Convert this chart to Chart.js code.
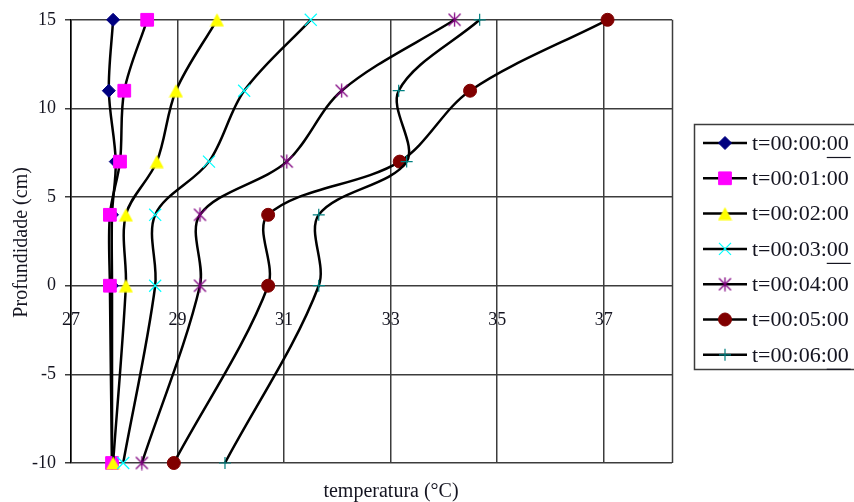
<!DOCTYPE html>
<html>
<head>
<meta charset="utf-8">
<script src="https://cdn.jsdelivr.net/npm/chart.js@4.4.1/dist/chart.umd.min.js"></script>
<style>
  html, body { margin: 0; padding: 0; background: #ffffff; }
  #wrap { width: 854px; height: 502px; position: relative; }
</style>
</head>
<body>
<div id="wrap"><canvas id="c" width="854" height="502"></canvas></div>
<script>
// Depth of each measurement (cm)
const depths = [15, 11, 7, 4, 0, -10];

// Temperature profiles (°C) per elapsed time
const seriesNames = ['t=00:00:00', 't=00:01:00', 't=00:02:00', 't=00:03:00', 't=00:04:00', 't=00:05:00', 't=00:06:00'];
const temp0 = [27.79, 27.71, 27.84, 27.77, 27.77, 27.77];
const temp1 = [28.43, 28.00, 27.92, 27.73, 27.73, 27.77];
const temp2 = [29.74, 28.97, 28.61, 28.03, 28.03, 27.79];
const temp3 = [31.50, 30.25, 29.59, 28.58, 28.58, 27.98];
const temp4 = [34.20, 32.08, 31.05, 29.42, 29.42, 28.33];
const temp5 = [37.07, 34.49, 33.17, 30.70, 30.70, 28.93];
const temp6 = [34.67, 33.15, 33.30, 31.65, 31.65, 29.89];
const temperatures = [temp0, temp1, temp2, temp3, temp4, temp5, temp6];

// Axis ranges and tick labels
const xTicks = [27, 29, 31, 33, 35, 37];
const yTicks = [-10, -5, 0, 5, 10, 15];
const xMin = 27, xMax = 38.28;
const yMin = -10, yMax = 15;

const axisTitleX = 'temperatura (°C)';
const axisTitleY = 'Profundidade (cm)';

const SERIF = "'Liberation Serif', 'Times New Roman', serif";

// Marker images for the shapes the library does not offer
function makeTriangle(color) {
  const w = 15, h = 14;
  const cv = document.createElement('canvas');
  cv.width = w; cv.height = h;
  const g = cv.getContext('2d');
  g.fillStyle = color;
  g.beginPath();
  g.moveTo(w / 2, 0.5);
  g.lineTo(w - 0.5, h - 0.5);
  g.lineTo(0.5, h - 0.5);
  g.closePath();
  g.fill();
  return cv;
}
function makeAsterisk(color) {
  const s = 15;
  const cv = document.createElement('canvas');
  cv.width = s; cv.height = s;
  const g = cv.getContext('2d');
  g.strokeStyle = color;
  g.lineWidth = 1.3;
  g.beginPath();
  g.moveTo(1.5, 1.5); g.lineTo(s - 1.5, s - 1.5);
  g.moveTo(s - 1.5, 1.5); g.lineTo(1.5, s - 1.5);
  g.moveTo(s / 2, 0.5); g.lineTo(s / 2, s - 0.5);
  g.stroke();
  return cv;
}

const markerColors = ['#000080', '#ff00ff', '#ffff00', '#00ffff', '#800080', '#800000', '#008080'];
const markerStyles = ['rectRot', 'rect', makeTriangle('#ffff00'), 'crossRot', makeAsterisk('#800080'), 'circle', 'cross'];
const markerRadius = [6.5, 9, 7, 8.5, 7, 6.5, 6];
const markerBorder = [1, 1, 1, 1.2, 1.2, 1, 1.2];

const datasets = temperatures.map((vals, i) => ({
  label: seriesNames[i],
  data: vals.map((t, k) => ({ x: t, y: depths[k] })),
  borderColor: '#000000',
  borderWidth: 2.5,
  tension: 0.33,
  fill: false,
  clip: false,
  pointStyle: markerStyles[i],
  pointRadius: markerRadius[i],
  pointHoverRadius: markerRadius[i],
  pointBackgroundColor: markerColors[i],
  pointBorderColor: markerColors[i],
  pointBorderWidth: markerBorder[i],
  order: temperatures.length - i
}));

// Closes the plot frame on the right-hand side
const frameRight = {
  id: 'frameRight',
  beforeDatasetsDraw(chart) {
    const { ctx, chartArea } = chart;
    ctx.save();
    ctx.strokeStyle = '#3c3c3c';
    ctx.lineWidth = 1.5;
    ctx.beginPath();
    ctx.moveTo(Math.round(chartArea.right) + 0.5, chartArea.top);
    ctx.lineTo(Math.round(chartArea.right) + 0.5, chartArea.bottom);
    ctx.stroke();
    ctx.restore();
  }
};

// Axis titles and the boxed legend beside the plot
const decorations = {
  id: 'decorations',
  afterDraw(chart) {
    const { ctx, chartArea } = chart;
    ctx.save();
    ctx.fillStyle = '#141420';
    ctx.font = '20px ' + SERIF;
    ctx.textAlign = 'center';
    ctx.textBaseline = 'alphabetic';
    ctx.fillText(axisTitleX, 391, 497);

    ctx.save();
    ctx.translate(27, (chartArea.top + chartArea.bottom) / 2 + 1);
    ctx.rotate(-Math.PI / 2);
    ctx.fillText(axisTitleY, 0, 0);
    ctx.restore();

    // legend box
    const boxL = 694.5, boxT = 124.5, boxW = 200, boxH = 245;
    ctx.strokeStyle = '#3c3c3c';
    ctx.lineWidth = 1.5;
    ctx.strokeRect(boxL, boxT, boxW, boxH);

    const rowTop = 143, rowGap = 35.3;
    chart.data.datasets.forEach((ds, i) => {
      const y = rowTop + i * rowGap;
      ctx.strokeStyle = '#000000';
      ctx.lineWidth = 2.5;
      ctx.beginPath();
      ctx.moveTo(703, y);
      ctx.lineTo(747, y);
      ctx.stroke();

      ctx.fillStyle = ds.pointBackgroundColor;
      ctx.strokeStyle = ds.pointBorderColor;
      ctx.lineWidth = ds.pointBorderWidth;
      Chart.helpers.drawPoint(ctx, {
        pointStyle: ds.pointStyle,
        radius: ds.pointRadius,
        rotation: 0,
        borderWidth: ds.pointBorderWidth
      }, 725, y);

      ctx.fillStyle = '#141420';
      ctx.font = '22px ' + SERIF;
      ctx.textAlign = 'left';
      ctx.textBaseline = 'middle';
      ctx.fillText(ds.label, 752, y + 1);
      if (i % 3 === 0) {
        const full = ctx.measureText(ds.label).width;
        const tail = ctx.measureText('00').width;
        ctx.strokeStyle = '#141420';
        ctx.lineWidth = 1.2;
        ctx.beginPath();
        ctx.moveTo(752 + full - tail, y + 14.5);
        ctx.lineTo(752 + full + 2, y + 14.5);
        ctx.stroke();
      }
    });
    ctx.restore();
  }
};

new Chart(document.getElementById('c'), {
  type: 'line',
  data: { datasets },
  plugins: [frameRight, decorations],
  options: {
    responsive: false,
    animation: false,
    devicePixelRatio: 1,
    layout: { padding: { top: 19, bottom: 39, left: 0, right: 182 } },
    plugins: {
      legend: { display: false },
      tooltip: { enabled: false },
      title: { display: false }
    },
    scales: {
      x: {
        type: 'linear',
        position: { y: 0 },
        min: xMin,
        max: xMax,
        afterBuildTicks(scale) { scale.ticks = xTicks.map(v => ({ value: v })); },
        grid: { color: '#3c3c3c', lineWidth: 1.5, drawTicks: false },
        border: { display: false },
        ticks: {
          padding: 24,
          color: '#141420',
          font: { family: SERIF, size: 18 },
          maxRotation: 0,
          autoSkip: false
        }
      },
      y: {
        type: 'linear',
        position: 'left',
        min: yMin,
        max: yMax,
        afterBuildTicks(scale) { scale.ticks = yTicks.map(v => ({ value: v })); },
        afterFit(scale) { scale.width = 71; },
        grid: { color: '#3c3c3c', lineWidth: 1.5, drawTicks: true, tickLength: 6 },
        border: { display: true, color: '#000000', width: 1.5 },
        ticks: {
          padding: 9,
          color: '#141420',
          font: { family: SERIF, size: 18 }
        }
      }
    }
  }
});
</script>
</body>
</html>
